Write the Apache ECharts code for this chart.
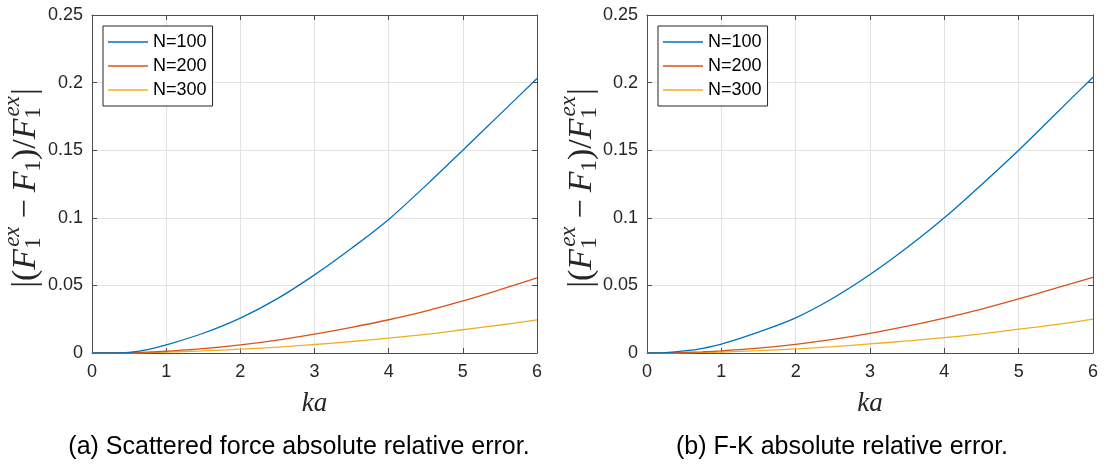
<!DOCTYPE html>
<html><head><meta charset="utf-8">
<script src="https://cdn.jsdelivr.net/npm/echarts@6/dist/echarts.min.js"></script>
<style>html,body{margin:0;padding:0;background:#fff}#c{width:1109px;height:468px}</style>
</head><body><div id="c"></div>
<script>
// ---- data ----
const ka = [0, 0.25, 0.5, 0.75, 1, 1.5, 2, 2.5, 3, 3.5, 4, 4.5, 5, 5.5, 6];
const seriesNames = ['N=100', 'N=200', 'N=300'];
// (a) Scattered force absolute relative error
const aN100 = [0, 0, 0.0004, 0.0025, 0.006, 0.0146, 0.0258, 0.0402, 0.0578, 0.0775, 0.0988, 0.1238, 0.150, 0.1765, 0.203];
const aN200 = [0, 0, 0.0002, 0.0006, 0.0013, 0.0032, 0.006, 0.0096, 0.014, 0.019, 0.0246, 0.031, 0.0385, 0.0468, 0.0555];
const aN300 = [0, 0, 0.0001, 0.0003, 0.0007, 0.0016, 0.0028, 0.0043, 0.0063, 0.0085, 0.011, 0.0138, 0.0172, 0.0207, 0.0245];
// (b) F-K absolute relative error
const bN100 = [0, 0.0003, 0.0015, 0.0035, 0.0066, 0.0155, 0.026, 0.0405, 0.058, 0.078, 0.1, 0.1245, 0.150, 0.177, 0.204];
const bN200 = [0, 0.0001, 0.0004, 0.0009, 0.0016, 0.0036, 0.0064, 0.010, 0.0145, 0.0198, 0.0258, 0.0325, 0.040, 0.048, 0.056];
const bN300 = [0, 0, 0.0002, 0.0004, 0.0007, 0.0017, 0.0031, 0.0047, 0.0067, 0.0089, 0.0113, 0.0142, 0.0176, 0.021, 0.025];
const xTicks = [0, 1, 2, 3, 4, 5, 6];
const yTicks = ['0', '0.05', '0.1', '0.15', '0.2', '0.25'];
const captions = ['(a) Scattered force absolute relative error.', '(b) F-K absolute relative error.'];
const xName = 'ka';

// ---- styling ----
const colors = ['#0072BD', '#D95319', '#EDB120'];
const axisCol = '#4d4d4d';
const txtCol = '#262626';
const grids = [
  {left: 92, top: 15, width: 445, height: 338},
  {left: 647, top: 15, width: 446, height: 338}
];
const sans = '"Liberation Sans", Arial, Helvetica, sans-serif';
const serif = '"Liberation Serif", "DejaVu Serif", serif';

const xAxes = [], yAxes = [];
grids.forEach((g, gi) => {
  xAxes.push({
    gridIndex: gi, type: 'value', min: 0, max: 6, interval: 1, position: 'bottom',
    name: xName, nameLocation: 'middle', nameGap: 37,
    nameTextStyle: {fontFamily: serif, fontStyle: 'italic', fontSize: 27, color: txtCol},
    axisLine: {show: true, onZero: false, lineStyle: {color: axisCol, width: 1}},
    axisTick: {show: true, inside: true, length: 5, lineStyle: {color: axisCol}},
    axisLabel: {color: txtCol, fontSize: 18, fontFamily: sans, margin: 10,
      formatter: v => String(xTicks[Math.round(v)])},
    splitLine: {show: true, lineStyle: {color: '#e3e3e3', width: 1}}
  });
  xAxes.push({
    gridIndex: gi, type: 'value', min: 0, max: 6, interval: 1, position: 'top',
    axisLine: {show: true, onZero: false, lineStyle: {color: axisCol, width: 1}},
    axisTick: {show: true, inside: true, length: 5, lineStyle: {color: axisCol}},
    axisLabel: {show: false}, splitLine: {show: false}
  });
  yAxes.push({
    gridIndex: gi, type: 'value', min: 0, max: 0.25, interval: 0.05, position: 'left',
    axisLine: {show: true, onZero: false, lineStyle: {color: axisCol, width: 1}},
    axisTick: {show: true, inside: true, length: 5, lineStyle: {color: axisCol}},
    axisLabel: {color: txtCol, fontSize: 18, fontFamily: sans, margin: 9,
      formatter: v => yTicks[Math.round(v / 0.05)]},
    splitLine: {show: true, lineStyle: {color: '#e3e3e3', width: 1}}
  });
  yAxes.push({
    gridIndex: gi, type: 'value', min: 0, max: 0.25, interval: 0.05, position: 'right',
    axisLine: {show: true, onZero: false, lineStyle: {color: axisCol, width: 1}},
    axisTick: {show: true, inside: true, length: 5, lineStyle: {color: axisCol}},
    axisLabel: {show: false}, splitLine: {show: false}
  });
});

const allData = [[aN100, aN200, aN300], [bN100, bN200, bN300]];
const series = [];
allData.forEach((set, gi) => {
  set.forEach((vals, si) => {
    series.push({
      type: 'line', name: seriesNames[si], xAxisIndex: gi * 2, yAxisIndex: gi * 2,
      data: ka.map((x, i) => [x, vals[i]]),
      smooth: 0.35, symbol: 'none', z: 5 - si,
      lineStyle: {color: colors[si], width: 1.3}, itemStyle: {color: colors[si]}
    });
  });
});

const legendPos = [{left: 103, top: 26}, {left: 658, top: 26}];
const legends = legendPos.map(p => ({
  left: p.left, top: p.top, orient: 'vertical',
  data: seriesNames.map(n => ({name: n, icon: 'rect'})),
  itemWidth: 40, itemHeight: 1.5, itemGap: 6, padding: [7, 6, 7, 5],
  borderColor: '#262626', borderWidth: 1, backgroundColor: '#fff', borderRadius: 0,
  textStyle: {fontFamily: sans, fontSize: 18, color: '#000'},
  selectedMode: false
}));

// ---- y-axis math label built from text pieces ----
function mathLabel(cx, cy) {
  const base = 34, small = 23;
  const ctx = document.createElement('canvas').getContext('2d');
  const up = s => s + 'px ' + serif;
  const it = s => 'italic ' + s + 'px ' + serif;
  const w = (t, f) => { ctx.font = f; return ctx.measureText(t).width; };
  const seq = [
    {t: '|', f: up(base)}, {t: '(', f: up(base)}, {t: 'F', f: it(base)},
    {stack: true}, {gap: 7}, {t: '\u2212', f: up(base)}, {gap: 7},
    {t: 'F', f: it(base)}, {t: '1', f: up(small), dy: 8},
    {t: ')', f: up(base)}, {t: '/', f: up(base)}, {t: 'F', f: it(base)},
    {stack: true}, {t: '|', f: up(base)}
  ];
  const items = [];
  let x = 0;
  seq.forEach(p => {
    if (p.gap) { x += p.gap; return; }
    if (p.stack) {
      const w1 = w('ex', it(small)), w2 = w('1', up(small));
      items.push({t: 'ex', f: it(small), x: x + 2, dy: -13});
      items.push({t: '1', f: up(small), x: x, dy: 8});
      x += Math.max(w1 + 2, w2) + 1;
      return;
    }
    items.push({t: p.t, f: p.f, x: x, dy: p.dy || 0});
    x += w(p.t, p.f);
  });
  const total = x;
  return {
    type: 'group', x: cx, y: cy, rotation: Math.PI / 2,
    children: items.map(p => ({
      type: 'text', x: p.x - total / 2, y: p.dy,
      style: {text: p.t, font: p.f, fill: txtCol, textAlign: 'left', textVerticalAlign: 'middle', align: 'left', verticalAlign: 'middle'}
    }))
  };
}

const graphics = [
  mathLabel(26, 188), mathLabel(582, 188),
  {type: 'text', x: 299, y: 447, style: {text: captions[0], font: '25px ' + sans, fill: '#000', textAlign: 'center', textVerticalAlign: 'middle', align: 'center', verticalAlign: 'middle'}},
  {type: 'text', x: 842, y: 447, style: {text: captions[1], font: '25px ' + sans, fill: '#000', textAlign: 'center', textVerticalAlign: 'middle', align: 'center', verticalAlign: 'middle'}}
];

const chart = echarts.init(document.getElementById('c'), null, {renderer: 'canvas'});
chart.setOption({
  animation: false,
  backgroundColor: '#fff',
  grid: grids,
  xAxis: xAxes, yAxis: yAxes,
  legend: legends,
  series: series,
  graphic: graphics
});
</script></body></html>
